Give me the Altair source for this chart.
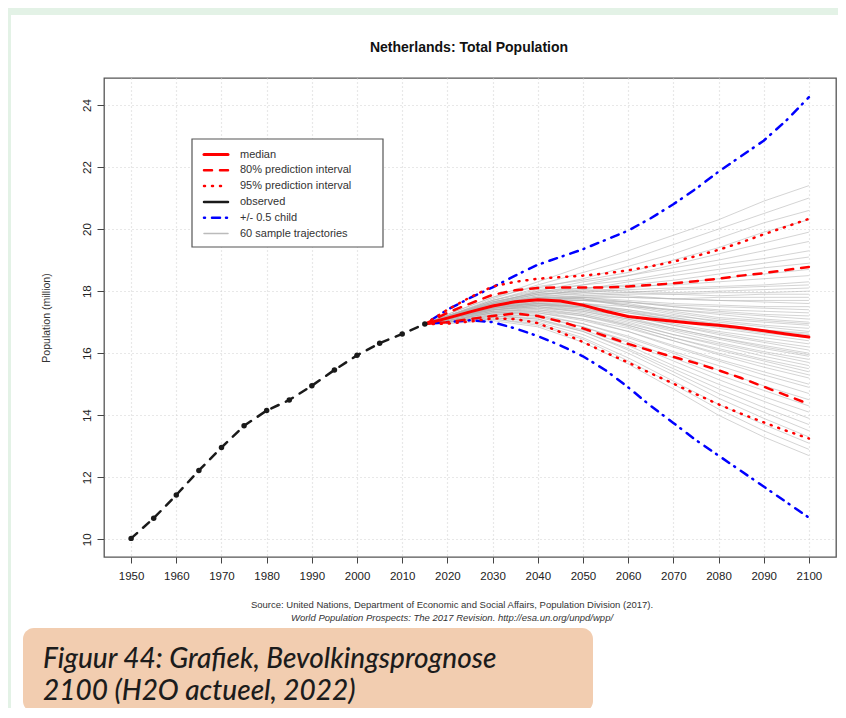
import altair as alt
import pandas as pd

# ---------------- data ----------------
obs_years = [1950, 1955, 1960, 1965, 1970, 1975, 1980, 1985, 1990, 1995, 2000, 2005, 2010, 2015]
obs_pop = [10.03, 10.68, 11.43, 12.22, 12.96, 13.66, 14.15, 14.49, 14.95, 15.46, 15.93, 16.32, 16.62, 16.94]

proj_years = [2015, 2020, 2025, 2030, 2035, 2040, 2045, 2050, 2055, 2060,
              2065, 2070, 2075, 2080, 2085, 2090, 2095, 2100]
median = [16.94, 17.13, 17.33, 17.52, 17.66, 17.72, 17.68, 17.55, 17.35, 17.18,
          17.10, 17.03, 16.96, 16.90, 16.82, 16.72, 16.62, 16.52]
pi80_up = [16.94, 17.30, 17.60, 17.88, 18.03, 18.10, 18.12, 18.12, 18.12, 18.15,
           18.20, 18.25, 18.32, 18.40, 18.50, 18.58, 18.68, 18.78]
pi80_lo = [16.94, 17.00, 17.10, 17.20, 17.28, 17.20, 17.02, 16.80, 16.55, 16.30,
           16.08, 15.88, 15.68, 15.45, 15.20, 14.92, 14.64, 14.36]
pi95_up = [16.94, 17.40, 17.80, 18.15, 18.30, 18.40, 18.45, 18.50, 18.57, 18.67,
           18.80, 18.95, 19.13, 19.33, 19.57, 19.83, 20.08, 20.33]
pi95_lo = [16.94, 16.95, 17.02, 17.12, 17.10, 16.97, 16.68, 16.36, 16.02, 15.70,
           15.35, 15.02, 14.68, 14.35, 14.05, 13.77, 13.50, 13.25]
child_up = [16.94, 17.40, 17.78, 18.12, 18.50, 18.85, 19.10, 19.35, 19.65, 19.95,
            20.35, 20.80, 21.30, 21.85, 22.35, 22.85, 23.50, 24.25]
child_lo = [16.94, 17.00, 17.06, 17.00, 16.80, 16.55, 16.25, 15.90, 15.45, 14.90,
            14.30, 13.75, 13.20, 12.70, 12.20, 11.70, 11.20, 10.70]

traj_years = [2015, 2020, 2030, 2040, 2050, 2060, 2070, 2080, 2090, 2100]
# 60 sample trajectories, values for 2020 ... 2100 (2015 = last observed value)
trajectories = [
    [17.25, 17.80, 18.30, 18.80, 19.30, 19.80, 20.30, 20.90, 21.40],
    [17.20, 17.75, 18.20, 18.60, 19.00, 19.50, 20.00, 20.50, 21.00],
    [17.20, 17.70, 18.10, 18.40, 18.80, 19.20, 19.70, 20.20, 20.60],
    [17.25, 17.80, 18.15, 18.35, 18.60, 19.00, 19.40, 19.90, 20.30],
    [17.20, 17.65, 17.95, 18.20, 18.50, 18.85, 19.20, 19.55, 19.90],
    [17.15, 17.60, 18.00, 18.30, 18.50, 18.75, 19.00, 19.30, 19.60],
    [17.20, 17.70, 18.05, 18.20, 18.35, 18.60, 18.85, 19.05, 19.30],
    [17.15, 17.55, 17.85, 18.05, 18.30, 18.50, 18.70, 18.90, 19.10],
    [17.20, 17.65, 17.95, 18.10, 18.20, 18.35, 18.55, 18.75, 18.90],
    [17.15, 17.60, 17.90, 18.00, 18.10, 18.25, 18.40, 18.55, 18.70],
    [17.20, 17.70, 18.00, 18.10, 18.15, 18.20, 18.30, 18.40, 18.50],
    [17.15, 17.55, 17.80, 17.95, 18.05, 18.10, 18.15, 18.20, 18.30],
    [17.20, 17.60, 17.85, 17.90, 17.95, 18.05, 18.10, 18.15, 18.20],
    [17.15, 17.65, 17.95, 18.05, 18.00, 17.95, 18.00, 18.05, 18.10],
    [17.10, 17.50, 17.75, 17.85, 17.90, 17.90, 17.95, 17.95, 18.00],
    [17.20, 17.60, 17.90, 18.00, 17.95, 17.90, 17.85, 17.90, 17.90],
    [17.15, 17.55, 17.80, 17.85, 17.80, 17.75, 17.80, 17.80, 17.80],
    [17.10, 17.50, 17.70, 17.80, 17.80, 17.75, 17.70, 17.70, 17.70],
    [17.20, 17.65, 17.90, 17.95, 17.85, 17.75, 17.70, 17.65, 17.60],
    [17.15, 17.55, 17.75, 17.80, 17.70, 17.60, 17.55, 17.50, 17.50],
    [17.10, 17.45, 17.65, 17.70, 17.65, 17.55, 17.50, 17.45, 17.40],
    [17.15, 17.50, 17.70, 17.75, 17.65, 17.50, 17.40, 17.35, 17.30],
    [17.20, 17.60, 17.80, 17.80, 17.65, 17.50, 17.35, 17.25, 17.20],
    [17.10, 17.45, 17.60, 17.60, 17.50, 17.40, 17.30, 17.20, 17.10],
    [17.15, 17.50, 17.70, 17.70, 17.55, 17.40, 17.25, 17.10, 17.00],
    [17.10, 17.45, 17.65, 17.70, 17.60, 17.35, 17.15, 17.05, 16.95],
    [17.15, 17.55, 17.75, 17.75, 17.55, 17.30, 17.10, 17.00, 16.90],
    [17.10, 17.45, 17.60, 17.55, 17.40, 17.20, 17.05, 16.90, 16.80],
    [17.20, 17.60, 17.80, 17.75, 17.50, 17.25, 17.00, 16.85, 16.70],
    [17.10, 17.40, 17.55, 17.50, 17.35, 17.15, 16.95, 16.75, 16.60],
    [17.15, 17.50, 17.65, 17.60, 17.40, 17.15, 16.90, 16.70, 16.55],
    [17.10, 17.45, 17.60, 17.50, 17.30, 17.05, 16.85, 16.65, 16.50],
    [17.15, 17.55, 17.70, 17.60, 17.35, 17.05, 16.80, 16.60, 16.40],
    [17.10, 17.40, 17.50, 17.40, 17.20, 16.95, 16.70, 16.50, 16.30],
    [17.10, 17.45, 17.55, 17.45, 17.20, 16.90, 16.65, 16.40, 16.20],
    [17.15, 17.50, 17.60, 17.50, 17.20, 16.90, 16.60, 16.35, 16.10],
    [17.05, 17.35, 17.45, 17.35, 17.10, 16.80, 16.50, 16.25, 16.00],
    [17.10, 17.45, 17.55, 17.40, 17.10, 16.75, 16.45, 16.15, 15.90],
    [17.10, 17.40, 17.50, 17.35, 17.05, 16.70, 16.35, 16.05, 15.80],
    [17.05, 17.35, 17.40, 17.25, 16.95, 16.60, 16.30, 16.00, 15.70],
    [17.10, 17.40, 17.50, 17.30, 17.00, 16.60, 16.25, 15.90, 15.60],
    [17.05, 17.30, 17.35, 17.20, 16.90, 16.50, 16.15, 15.80, 15.50],
    [17.10, 17.40, 17.45, 17.25, 16.90, 16.50, 16.10, 15.75, 15.40],
    [17.05, 17.30, 17.30, 17.10, 16.80, 16.40, 16.00, 15.65, 15.30],
    [17.10, 17.35, 17.40, 17.20, 16.85, 16.40, 15.95, 15.55, 15.20],
    [17.05, 17.30, 17.30, 17.05, 16.70, 16.25, 15.80, 15.40, 15.00],
    [17.10, 17.35, 17.35, 17.10, 16.70, 16.20, 15.75, 15.30, 14.90],
    [17.00, 17.25, 17.20, 16.95, 16.55, 16.05, 15.60, 15.15, 14.70],
    [17.05, 17.30, 17.25, 16.95, 16.50, 16.00, 15.45, 14.95, 14.50],
    [17.00, 17.20, 17.15, 16.85, 16.40, 15.85, 15.30, 14.80, 14.30],
    [17.05, 17.25, 17.20, 16.85, 16.35, 15.75, 15.15, 14.60, 14.10],
    [17.00, 17.20, 17.10, 16.75, 16.25, 15.60, 15.00, 14.45, 13.90],
    [17.00, 17.15, 17.05, 16.70, 16.15, 15.50, 14.85, 14.25, 13.70],
    [17.05, 17.20, 17.10, 16.70, 16.10, 15.40, 14.70, 14.10, 13.50],
    [17.00, 17.15, 17.00, 16.60, 16.00, 15.30, 14.55, 13.90, 13.30],
    [17.00, 17.10, 16.95, 16.50, 15.85, 15.10, 14.35, 13.70, 13.10],
    [17.00, 17.10, 16.90, 16.45, 15.75, 15.00, 14.20, 13.50, 12.90],
    [16.95, 17.05, 16.85, 16.35, 15.65, 14.85, 14.00, 13.30, 12.70],
    [17.15, 17.50, 17.60, 17.45, 17.15, 16.80, 16.50, 16.20, 15.95],
    [17.10, 17.40, 17.55, 17.50, 17.30, 17.10, 16.90, 16.75, 16.65],
]

x_ticks = [1950, 1960, 1970, 1980, 1990, 2000, 2010, 2020, 2030, 2040,
           2050, 2060, 2070, 2080, 2090, 2100]
y_ticks = [10, 12, 14, 16, 18, 20, 22, 24]

legend_labels = ["median", "80% prediction interval", "95% prediction interval",
                 "observed", "+/- 0.5 child", "60 sample trajectories"]

title_text = "Netherlands: Total Population"
y_title = "Population (million)"
source_1 = "Source: United Nations, Department of Economic and Social Affairs, Population Division (2017)."
source_2 = "World Population Prospects: The 2017 Revision. http://esa.un.org/unpd/wpp/"
caption_1 = "Figuur 44: Grafiek, Bevolkingsprognose"
caption_2 = "2100 (H2O actueel, 2022)"

# ---------------- styling ----------------
W, H = 732, 479
PAD = {"left": 96, "top": 70, "right": 2, "bottom": 151}
FONT = "Liberation Sans"
RED, BLUE, BLACK, GREY = "#ff0000", "#0000ff", "#1a1a1a", "#b0b0b0"
DASH80 = [8, 8]
DOT95 = [1, 7]
DOTDASH = [1, 7, 8, 6]
OBSDASH = [8, 8]

xs = alt.Scale(domain=[1944, 2106], nice=False, zero=False)
ys = alt.Scale(domain=[9.43, 24.87], nice=False, zero=False)

common_axis = dict(title=None, grid=True, gridColor="#d2d2d2", gridDash=[1, 3],
                   gridWidth=1.2, domain=False, ticks=True, tickColor="#444",
                   labelFont=FONT, labelColor="#222", labelFontSize=11.5,
                   labelOverlap=False, labelFlush=False, format="d")
x_axis = alt.Axis(values=x_ticks, tickSize=6, labelPadding=7, **common_axis)
y_axis = alt.Axis(values=y_ticks, tickSize=7, labelPadding=5, labelAngle=270,
                  labelAlign="center", labelBaseline="bottom", **common_axis)

X = lambda: alt.X("year:Q", scale=xs, axis=x_axis)
Y = lambda: alt.Y("pop:Q", scale=ys, axis=y_axis)

one = pd.DataFrame({"k": [0]})


def series_layer(years, vals, color, width, dash=None, opacity=1.0):
    kw = dict(color=color, strokeWidth=width, strokeCap="round", opacity=opacity)
    if dash:
        kw["strokeDash"] = dash
    df = pd.DataFrame({"year": years, "pop": vals})
    return alt.Chart(df).mark_line(**kw).encode(x=X(), y=Y())


# trajectories table
rows = []
for i, tr in enumerate(trajectories):
    for yr, v in zip(traj_years, [obs_pop[-1]] + tr):
        rows.append({"id": i, "year": yr, "pop": v})
traj_df = pd.DataFrame(rows)

layers = []

# page decoration: green frame strips and peach caption box
layers.append(alt.Chart(one).mark_rect(color="#e3f2e6").encode(
    x=alt.value(-96), x2=alt.value(W + 2), y=alt.value(-70), y2=alt.value(-63)))
layers.append(alt.Chart(one).mark_rect(color="#e3f2e6").encode(
    x=alt.value(-96), x2=alt.value(-93), y=alt.value(-70), y2=alt.value(H + 151)))
layers.append(alt.Chart(one).mark_rect(color="#f2cdb0", cornerRadius=11).encode(
    x=alt.value(-81), x2=alt.value(489), y=alt.value(550), y2=alt.value(634)))

# gray sample trajectories
layers.append(alt.Chart(traj_df).mark_line(color=GREY, strokeWidth=1, opacity=0.55).encode(
    x=X(), y=Y(), detail="id:N"))

# intervals & median
layers.append(series_layer(proj_years, child_up, BLUE, 2.5, DOTDASH))
layers.append(series_layer(proj_years, child_lo, BLUE, 2.5, DOTDASH))
layers.append(series_layer(proj_years, pi95_up, RED, 2.5, DOT95))
layers.append(series_layer(proj_years, pi95_lo, RED, 2.5, DOT95))
layers.append(series_layer(proj_years, pi80_up, RED, 2.5, DASH80))
layers.append(series_layer(proj_years, pi80_lo, RED, 2.5, DASH80))
layers.append(series_layer(proj_years, median, RED, 3))

# observed
obs_df = pd.DataFrame({"year": obs_years, "pop": obs_pop})
layers.append(series_layer(obs_years, obs_pop, BLACK, 2.5, OBSDASH))
layers.append(alt.Chart(obs_df).mark_circle(color=BLACK, size=30, opacity=1).encode(x=X(), y=Y()))

# legend box
LX0, LY0, LX1, LY1 = 88, 61, 279, 169
layers.append(alt.Chart(one).mark_rect(fill="white", stroke="#555", strokeWidth=1.2).encode(
    x=alt.value(LX0), x2=alt.value(LX1), y=alt.value(LY0), y2=alt.value(LY1)))
leg_styles = [(RED, 3, None), (RED, 2.5, DASH80), (RED, 2.5, DOT95),
              (BLACK, 2.5, None), (BLUE, 2.5, DOTDASH), ("#bbbbbb", 1.5, None)]
for i, (lab, (col, w, dash)) in enumerate(zip(legend_labels, leg_styles)):
    yy = 76.5 + 15.8 * i
    kw = dict(color=col, strokeWidth=w, strokeCap="round")
    if dash:
        kw["strokeDash"] = dash
    layers.append(alt.Chart(one).mark_rule(**kw).encode(
        x=alt.value(100), x2=alt.value(124), y=alt.value(yy)))
    layers.append(alt.Chart(one).mark_text(text=lab, font=FONT, fontSize=11, color="#333",
                                           align="left", baseline="middle").encode(
        x=alt.value(136), y=alt.value(yy)))

# texts
layers.append(alt.Chart(one).mark_text(text=title_text, font=FONT, fontSize=14, fontWeight="bold",
                                       color="#111", align="center", baseline="alphabetic").encode(
    x=alt.value(365), y=alt.value(-26)))
layers.append(alt.Chart(one).mark_text(text=y_title, font=FONT, fontSize=10.5, color="#333",
                                       align="center", baseline="middle", angle=270).encode(
    x=alt.value(-57), y=alt.value(240)))
layers.append(alt.Chart(one).mark_text(text=source_1, font=FONT, fontSize=9.5, color="#333",
                                       align="center", baseline="middle").encode(
    x=alt.value(348), y=alt.value(527)))
layers.append(alt.Chart(one).mark_text(text=source_2, font=FONT, fontSize=9.5, color="#333",
                                       fontStyle="italic", align="center", baseline="middle").encode(
    x=alt.value(348), y=alt.value(540)))
layers.append(alt.Chart(one).mark_text(text=caption_1, font="Lato", fontSize=28, fontStyle="italic",
                                       fontWeight=500, color="#1c1c1c", align="left",
                                       baseline="alphabetic").encode(
    x=alt.value(-61), y=alt.value(590)))
layers.append(alt.Chart(one).mark_text(text=caption_2, font="Lato", fontSize=28, fontStyle="italic",
                                       fontWeight=500, color="#1c1c1c", align="left",
                                       baseline="alphabetic").encode(
    x=alt.value(-61), y=alt.value(622)))

chart = alt.layer(*layers).properties(
    width=W, height=H, padding=PAD,
    autosize=alt.AutoSizeParams(type="none"),
    background="white",
).configure_view(stroke="#555", strokeWidth=1.3)

chart.save("out.html", embed_options={"renderer": "svg", "actions": False})
